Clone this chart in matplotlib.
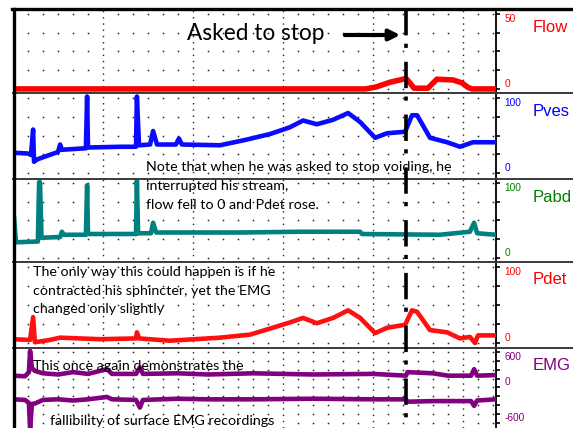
import matplotlib
matplotlib.use('Agg')
import matplotlib.pyplot as plt
from matplotlib import font_manager, transforms
from matplotlib.lines import Line2D

W, H = 573, 428

# time in seconds, one grid square = 5 s
t_flow = [0, 117.5, 121, 125.7, 129, 131, 132.3, 133.7, 138.3, 141.3, 146.7, 149.7, 151.7, 153, 161]
flow = [0, 0, 1.3, 4.5, 6, 7, 4, 0.5, 0.5, 6.5, 6, 4, 1, 0, 0]

t_pves = [0, 0.3, 5, 6, 6.7, 7, 8, 10.7, 15, 15.7, 16.3, 24.3, 24.7, 25, 35.7, 41, 41.3, 42,
          45.7, 46.7, 48, 54.3, 55.3, 56.3, 69, 77.3, 85.7, 92.3, 96.7, 101.3, 106.7, 111.7,
          115.7, 120.7, 124.7, 130.7, 133, 134.7, 139, 144.7, 149, 153.3, 161]
pves = [0, 27, 26, 24, 58, 15, 18, 22, 28, 38, 31, 33, 102, 34, 35, 35, 102, 37,
        38, 56, 38, 38, 46, 38, 37, 44, 52, 61, 70, 65, 71, 80,
        68, 47, 53, 55, 77, 77, 47, 41, 35, 41, 41]

t_pabd = [0, 0.3, 1, 8.3, 8.7, 9, 9.5, 15.7, 16.3, 17, 24.3, 24.7, 25, 41, 41.3, 41.7,
          46, 46.7, 47.7, 75.7, 95.7, 115.7, 116.3, 142.3, 152.3, 153.7, 154.7, 161]
pabd = [0, 55, 21, 22, 101, 101, 27, 28, 35, 31, 31, 97, 32, 32, 103, 33,
        33, 47, 34, 34, 35, 35, 32, 31, 35, 47, 33, 31]

t_pdet = [0, 5.7, 6.7, 7.3, 12.3, 15.7, 29, 41, 41.3, 42, 52.3, 69, 79, 85.7, 92.3, 96.7,
          101.3, 106.7, 111.7, 115.7, 120.7, 124.7, 130.7, 133, 134.7, 139, 144.7, 149,
          152.3, 154, 155, 161]
pdet = [5, 4, 34, 1, 4, 7, 5, 6, 14, 6, 3, 7, 11, 19, 27, 33,
        26, 33, 43, 33, 13, 20, 24, 43, 41, 17, 14, 6,
        8, 0, 10, 10]

t_emg = [0, 4, 5.3, 5.7, 6.3, 7.3, 10, 15, 20, 25, 31.3, 33, 41, 42.3, 43.3, 55, 65, 80,
         100, 120, 131, 131.5, 140, 145, 152.7, 153.7, 154.7, 161]
emg_hi = [200, 190, 260, 620, 330, 280, 240, 220, 260, 230, 310, 230, 230, 340, 230, 240, 220, 240,
          220, 230, 200, 260, 240, 200, 200, 310, 200, 210]
emg_lo = [-200, -210, -260, -700, -280, -270, -210, -200, -220, -200, -160, -200, -210, -340, -210,
          -190, -200, -200, -190, -200, -200, -240, -230, -230, -230, -310, -220, -200]

t_stop = 131

names = ['Flow', 'Pves', 'Pabd', 'Pdet', 'EMG']
name_colors = ['#ff0000', '#0000ff', '#008000', '#ff0000', '#800080']
top_labels = ['50', '100', '100', '100', '600']
bottom_labels = ['0', '0', '0', '0', '-600']


def fx(x):
    return x / W


def fy(y):
    return 1 - y / H


def have(family):
    try:
        font_manager.findfont(font_manager.FontProperties(family=family), fallback_to_default=False)
        return True
    except Exception:
        return False


narrow = 'Liberation Sans Narrow' if have('Liberation Sans Narrow') else 'Liberation Sans'
body = 'Lato' if have('Lato') else 'DejaVu Sans'
small = 7.3 if narrow == 'Liberation Sans' else 8
big = 12 if narrow == 'Liberation Sans' else 14

fig = plt.figure(figsize=(W / 100, H / 100), dpi=100)

# panel rows in pixels: (top, bottom)
rows = [(9, 93), (93, 179), (179, 262), (262, 348), (348, 428)]
ylims = [(-2.7, 53.3), (-8, 106.7), (-5.3, 105.3), (-6.6, 106.6), (-685, 668)]
steps = [12.5, 25, 25, 25, 150]
spans = [(0, 50), (0, 100), (0, 100), (0, 100), (-600, 600)]

axes = []
for (top, bot), lim in zip(rows, ylims):
    ax = fig.add_axes([fx(13), fy(bot), fx(496) - fx(13), fy(top) - fy(bot)])
    ax.set_xlim(0, 161)
    ax.set_ylim(*lim)
    for s in ['top', 'bottom', 'left']:
        ax.spines[s].set_visible(False)
    ax.spines['right'].set_linewidth(1.3)
    ax.set_xticks([])
    axes.append(ax)

for ax, step, (lo, hi), col, tl, bl, name, (top, bot) in zip(
        axes, steps, spans, name_colors, top_labels, bottom_labels, names, rows):
    n = int(round((hi - lo) / step))
    ticks = [lo + k * step for k in range(n + 1)]
    ax.yaxis.tick_right()
    ax.set_yticks(ticks)
    ax.tick_params(axis='y', direction='out', length=3, width=1.2, labelright=False)
    # dot lattice and dotted major verticals
    xs = [5 * k for k in range(1, 33) if k % 6 != 0]
    gx = [x for x in xs for _ in ticks]
    gy = [y for _ in xs for y in ticks]
    ax.plot(gx, gy, ls='none', marker='s', ms=1.1, mew=0, color='#222222', zorder=1)
    for t in range(30, 161, 30):
        ax.axvline(t, ls=(0, (1, 3.5)), lw=1, color='#222222', zorder=1)
    tr = transforms.blended_transform_factory(ax.transAxes, ax.transData)
    ax.text(1.018, hi, tl, transform=tr, color=col, fontsize=small, family=narrow,
            va='top', ha='left')
    ax.text(1.018, lo, bl, transform=tr, color=col, fontsize=small, family=narrow,
            va='bottom', ha='left')
    fig.text(fx(533), fy(top + 18), name, color=col, fontsize=big, family=narrow,
             va='center', ha='left')

axes[4].text(1.018, 0, '0', transform=transforms.blended_transform_factory(
    axes[4].transAxes, axes[4].transData), color='#800080', fontsize=small,
    family=narrow, va='bottom', ha='left')

lw = 3.3
axes[0].plot(t_flow, flow, color='#ff0000', lw=4, zorder=3)
axes[1].plot(t_pves, pves, color='#0a0aff', lw=lw, zorder=3)
axes[2].plot(t_pabd, pabd, color='#00807f', lw=lw, zorder=3)
axes[3].plot(t_pdet, pdet, color='#ff1010', lw=lw, zorder=3)
axes[4].plot(t_emg, emg_hi, color='#800080', lw=lw, zorder=3)
axes[4].plot(t_emg, emg_lo, color='#800080', lw=lw, zorder=3)

# frame: separators, top edge, left edge
for top, bot in rows[1:]:
    fig.add_artist(Line2D([fx(13), 1], [fy(top), fy(top)], color='#3a3a3a', lw=1.4))
fig.add_artist(Line2D([fx(12), 1], [fy(9), fy(9)], color='black', lw=2.4))
fig.add_artist(Line2D([fx(14), fx(14)], [fy(9), 0], color='black', lw=2.4))

# stop marker across all panels
plt.rcParams['lines.scale_dashes'] = False
stop_tr = transforms.blended_transform_factory(axes[0].transData, fig.transFigure)
fig.add_artist(Line2D([t_stop, t_stop], [fy(9), 0], transform=stop_tr, color='black',
                      lw=2.6, ls=(0, (19, 6, 3, 10)), dash_capstyle='butt', zorder=5))

fig.text(fx(187), fy(33), 'Asked to stop', fontsize=16.3, family=body, va='center', ha='left')
fig.add_artist(matplotlib.patches.FancyArrowPatch(
    (fx(342), fy(35)), (fx(403), fy(35)), transform=fig.transFigure,
    arrowstyle='-|>', mutation_scale=16, lw=3, color='black'))

notes = [
    (146, 167, 'Note that when he was asked to stop voiding, he'),
    (146, 186, 'interrupted his stream,'),
    (146, 205, 'flow fell to 0 and Pdet rose.'),
    (33, 272, 'The only way this could happen is if he'),
    (33, 291, 'contracted his sphincter, yet the EMG'),
    (33, 309, 'changed only slightly'),
    (33, 366, 'This once again demonstrates the'),
    (50, 421, 'fallibility of surface EMG recordings'),
]
for x, y, s in notes:
    fig.text(fx(x), fy(y), s, fontsize=10.3, family=body, va='center', ha='left', zorder=6)

fig.savefig('out.png', dpi=100)
